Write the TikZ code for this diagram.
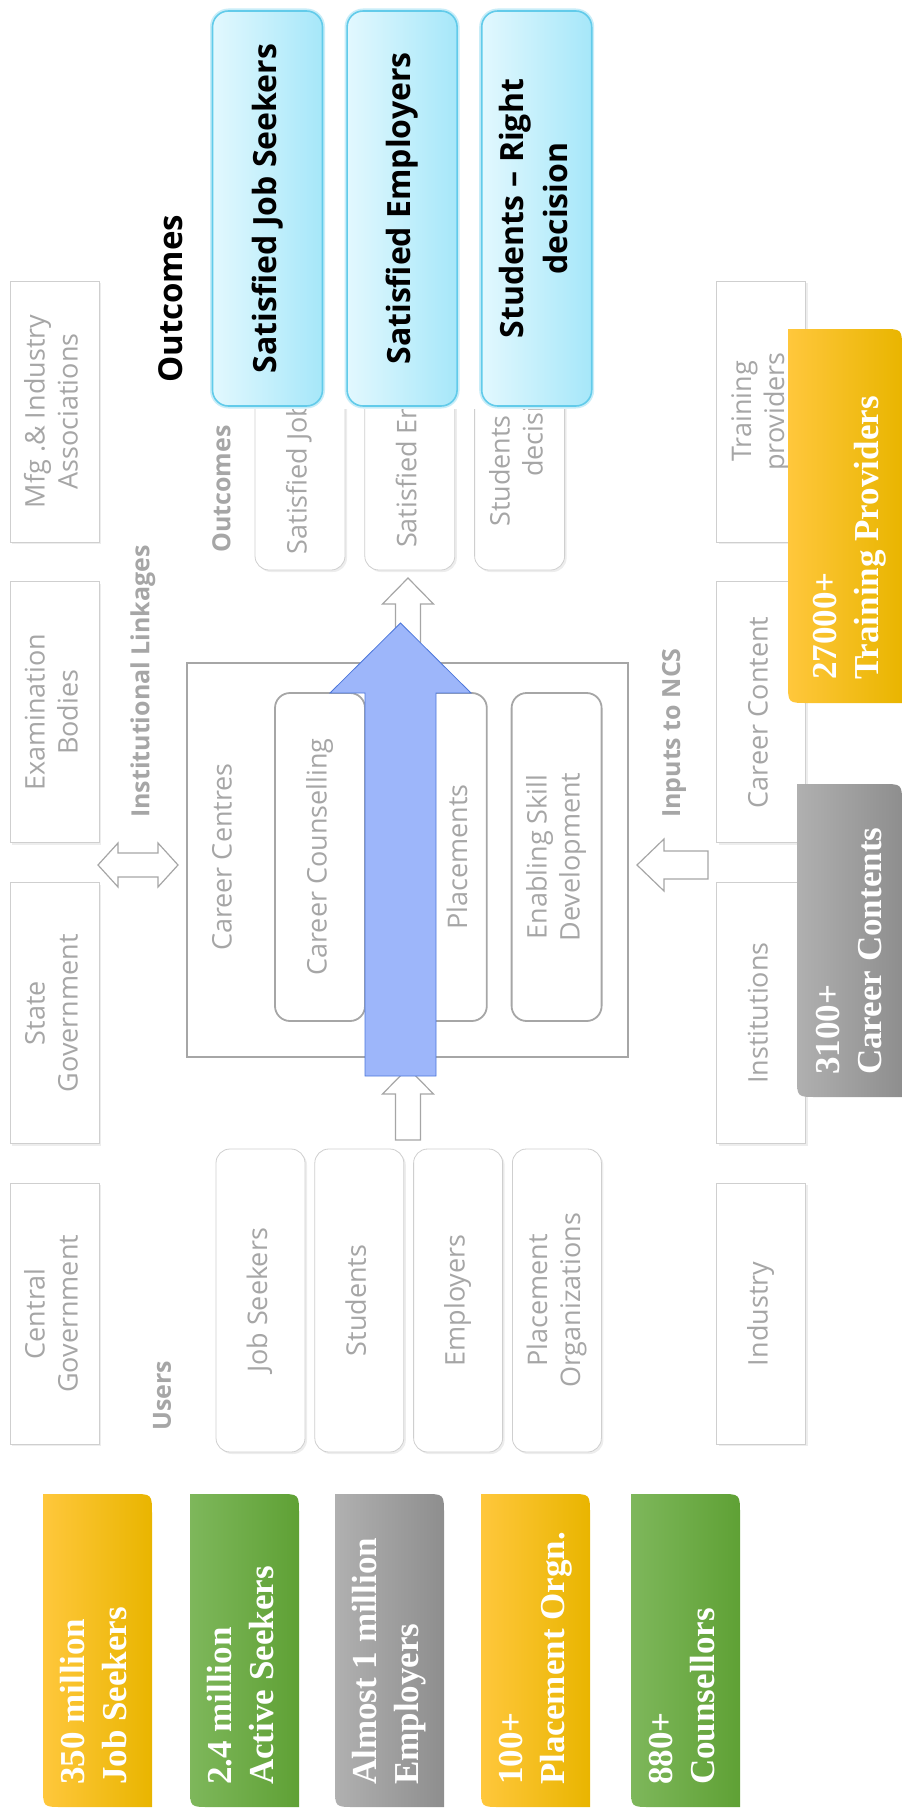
\documentclass[tikz,border=0pt]{standalone}
\usepackage{fontspec}
\setmainfont{Open Sans}
\newfontfamily\statfont{Liberation Serif}
\usepackage{graphicx}
\usepackage{tikz}
\usetikzlibrary{positioning, shadows}
\definecolor{txtgray}{HTML}{A6A6A6}
\definecolor{boxgray}{HTML}{CFCFCF}
\definecolor{linegray}{HTML}{A6A6A6}
\definecolor{cyanL}{HTML}{E2F8FE}
\definecolor{cyanR}{HTML}{A6E7F9}
\definecolor{cyanB}{HTML}{62CBEA}
\definecolor{blueF}{HTML}{9DB6FA}
\definecolor{blueE}{HTML}{4C76DA}
\definecolor{yelL}{HTML}{FFC73C}
\definecolor{yelM}{HTML}{FFC300}
\definecolor{yelR}{HTML}{E9B500}
\definecolor{grnL}{HTML}{7EB75B}
\definecolor{grnM}{HTML}{6EAF41}
\definecolor{grnR}{HTML}{5FA135}
\definecolor{gryL}{HTML}{B0B0B0}
\definecolor{gryM}{HTML}{A0A0A0}
\definecolor{gryR}{HTML}{8E8E8E}

% text turned a quarter left
\newcommand{\vtext}[1]{\rotatebox{90}{\begin{tabular}{@{}c@{}}#1\end{tabular}}}
\newcommand{\vtextl}[1]{\rotatebox{90}{\begin{tabular}{@{}l@{}}#1\end{tabular}}}
% block with two rounded corners: left, top, width, height, three colours
\newcommand{\statshape}[7]{%
  \shade[left color=#5, middle color=#6, right color=#7]
    (#1,#2) -- (#1+#3-20,#2) .. controls (#1+#3,#2) .. (#1+#3,#2+20)
    -- (#1+#3,#2+#4) -- (#1+20,#2+#4) .. controls (#1,#2+#4) .. (#1,#2+#4-20) -- cycle;}

\begin{document}
\begin{tikzpicture}[x=1pt, y=-1pt,
  lbl/.style={text=txtgray, font=\fontsize{27}{33}\selectfont, inner sep=0pt},
  linkhead/.style={text=txtgray, font=\fontsize{25}{30}\selectfont\bfseries, inner sep=0pt, anchor=south},
  sidebox/.style={draw=boxgray, fill=white, line width=0.8pt, minimum width=89pt, minimum height=261pt,
                  text=txtgray, font=\fontsize{27}{33}\selectfont,
                  drop shadow={shadow xshift=2pt, shadow yshift=-2pt, fill=black!14}},
  userbox/.style={sidebox, rounded corners=14pt, minimum height=303pt},
  outbox/.style={sidebox, rounded corners=14pt, minimum width=90pt, minimum height=290pt},
  satbox/.style={draw=cyanB, line width=1.6pt, left color=cyanL, right color=cyanR, rounded corners=16pt,
                 minimum width=110pt, minimum height=395pt, font=\fontsize{32}{44}\selectfont\bfseries,
                 preaction={draw=cyanB!35, line width=5pt}},
  ccinner/.style={draw=linegray, line width=1.8pt, rounded corners=15pt, minimum width=90pt,
                  minimum height=328pt, text=txtgray, font=\fontsize{27}{33}\selectfont},
  stattxt/.style={text=white, font=\statfont\bfseries\fontsize{35}{42}\selectfont, inner sep=0pt, anchor=south},
  blockarr/.style={draw=linegray, fill=white, line width=1.2pt}
]
  \useasboundingbox (0,0) rectangle (902,1814);

  % Institutional linkages column
  \node[sidebox] (mfg) at (54.5,411.5) {\vtext{Mfg .\& Industry\\Associations}};
  \node[sidebox, below=39pt of mfg] (exam) {\vtext{Examination\\Bodies}};
  \node[sidebox, below=39pt of exam] (stgov) {\vtext{State\\Government}};
  \node[sidebox, below=39pt of stgov] (cgov) {\vtext{Central\\Government}};

  % Inputs column
  \node[sidebox] (train) at (761,411.5) {\vtext{Training\\providers}};
  \node[sidebox, below=39pt of train] (content) {\vtext{Career Content}};
  \node[sidebox, below=39pt of content] (inst) {\vtext{Institutions}};
  \node[sidebox, below=39pt of inst] (ind) {\vtext{Industry}};

  % Users
  \node[linkhead] (users) at (162,1431) {\rotatebox{90}{Users}};
  \node[userbox] (js) at (260.5,1300.5) {\vtext{Job Seekers}};
  \node[userbox, right=9pt of js] (stud) {\vtext{Students}};
  \node[userbox, right=9pt of stud] (emp) {\vtext{Employers}};
  \node[userbox, right=9pt of emp] (porg) {\vtext{Placement\\Organizations}};

  % Career centres
  \node[draw=linegray, line width=1.8pt, minimum width=441pt, minimum height=394pt] (centre) at (407.5,860) {};
  \node[lbl] (centretxt) at (222,857) {\rotatebox{90}{Career Centres}};
  \node[ccinner] (couns) at (320,857) {\vtext{Career Counselling}};
  \node[ccinner, right=30pt of couns] (plc) {};
  \node[lbl] (plctxt) at (457,857) {\rotatebox{90}{Placements}};
  \node[ccinner, right=23pt of plc] (skill) {\vtext{Enabling Skill\\Development}};

  \node[linkhead] (links) at (143,818) {\rotatebox{90}{Institutional Linkages}};
  \node[linkhead] (inputs) at (674,818) {\rotatebox{90}{Inputs to NCS}};

  % Outcomes (small, mostly covered)
  \node[linkhead] (outs) at (221.5,553) {\rotatebox{90}{Outcomes}};
  \node[outbox] (o1) at (300,425) {\vtext{Satisfied Job Seekers}};
  \node[outbox, right=19pt of o1] (o2) {\vtext{Satisfied Employers}};
  \node[outbox, right=19pt of o2] (o3) {\vtext{Students – Right\\decision}};
  \fill[white] (200,0) rectangle (605,409);

  % Outcomes (large)
  \node[font=\fontsize{33}{40}\selectfont\bfseries, inner sep=0pt, anchor=south] (outhead) at (171,383) {\rotatebox{90}{Outcomes}};
  \node[satbox] (sat1) at (267.5,208.5) {\vtext{Satisfied Job Seekers}};
  \node[satbox, right=23pt of sat1] (sat2) {\vtext{Satisfied Employers}};
  \node[satbox, right=23pt of sat2] (sat3) {\vtext{Students – Right\\decision}};

  % block arrows
  \draw[blockarr] (98,865) -- (118,843) -- (118,853) -- (158,853) -- (158,843) -- (178,865)
    -- (158,887) -- (158,877) -- (118,877) -- (118,887) -- cycle;
  \draw[blockarr] (637,865) -- (664,839) -- (664,851) -- (708,851) -- (708,879) -- (664,879) -- (664,891) -- cycle;
  \draw[blockarr] (408,578) -- (433.5,604) -- (420.5,604) -- (420.5,700) -- (395.5,700) -- (395.5,604) -- (382.5,604) -- cycle;
  \draw[blockarr] (408,1068) -- (433.5,1094) -- (420.5,1094) -- (420.5,1140) -- (395.5,1140) -- (395.5,1094) -- (382.5,1094) -- cycle;
  \draw[draw=blueE, fill=blueF, line width=0.8pt] (400.5,623) -- (471,693) -- (436,693) -- (436,1076)
    -- (365,1076) -- (365,693) -- (330,693) -- cycle;

  % Figures
  \foreach \x/\colA/\colB/\colC/\txt [count=\i] in {43/yelL/yelM/yelR/{350 million\\Job Seekers},
      190/grnL/grnM/grnR/{2.4 million\\Active Seekers}, 335/gryL/gryM/gryR/{Almost 1 million\\Employers},
      481/yelL/yelM/yelR/{100+\\Placement Orgn.}, 631/grnL/grnM/grnR/{880+\\Counsellors}}{
    \statshape{\x}{1494}{109}{313}{\colA}{\colB}{\colC}
    \node[stattxt] (stat\i) at (\x+54.5,1785) {\vtextl{\txt}};
  }
  \statshape{788}{329}{114}{374}{yelL}{yelM}{yelR}
  \node[stattxt] (stat6) at (849,680) {\vtextl{27000+\\Training Providers}};
  \statshape{797}{784}{105}{313}{gryL}{gryM}{gryR}
  \node[stattxt] (stat7) at (852,1075) {\vtextl{3100+\\Career Contents}};
\end{tikzpicture}
\end{document}
